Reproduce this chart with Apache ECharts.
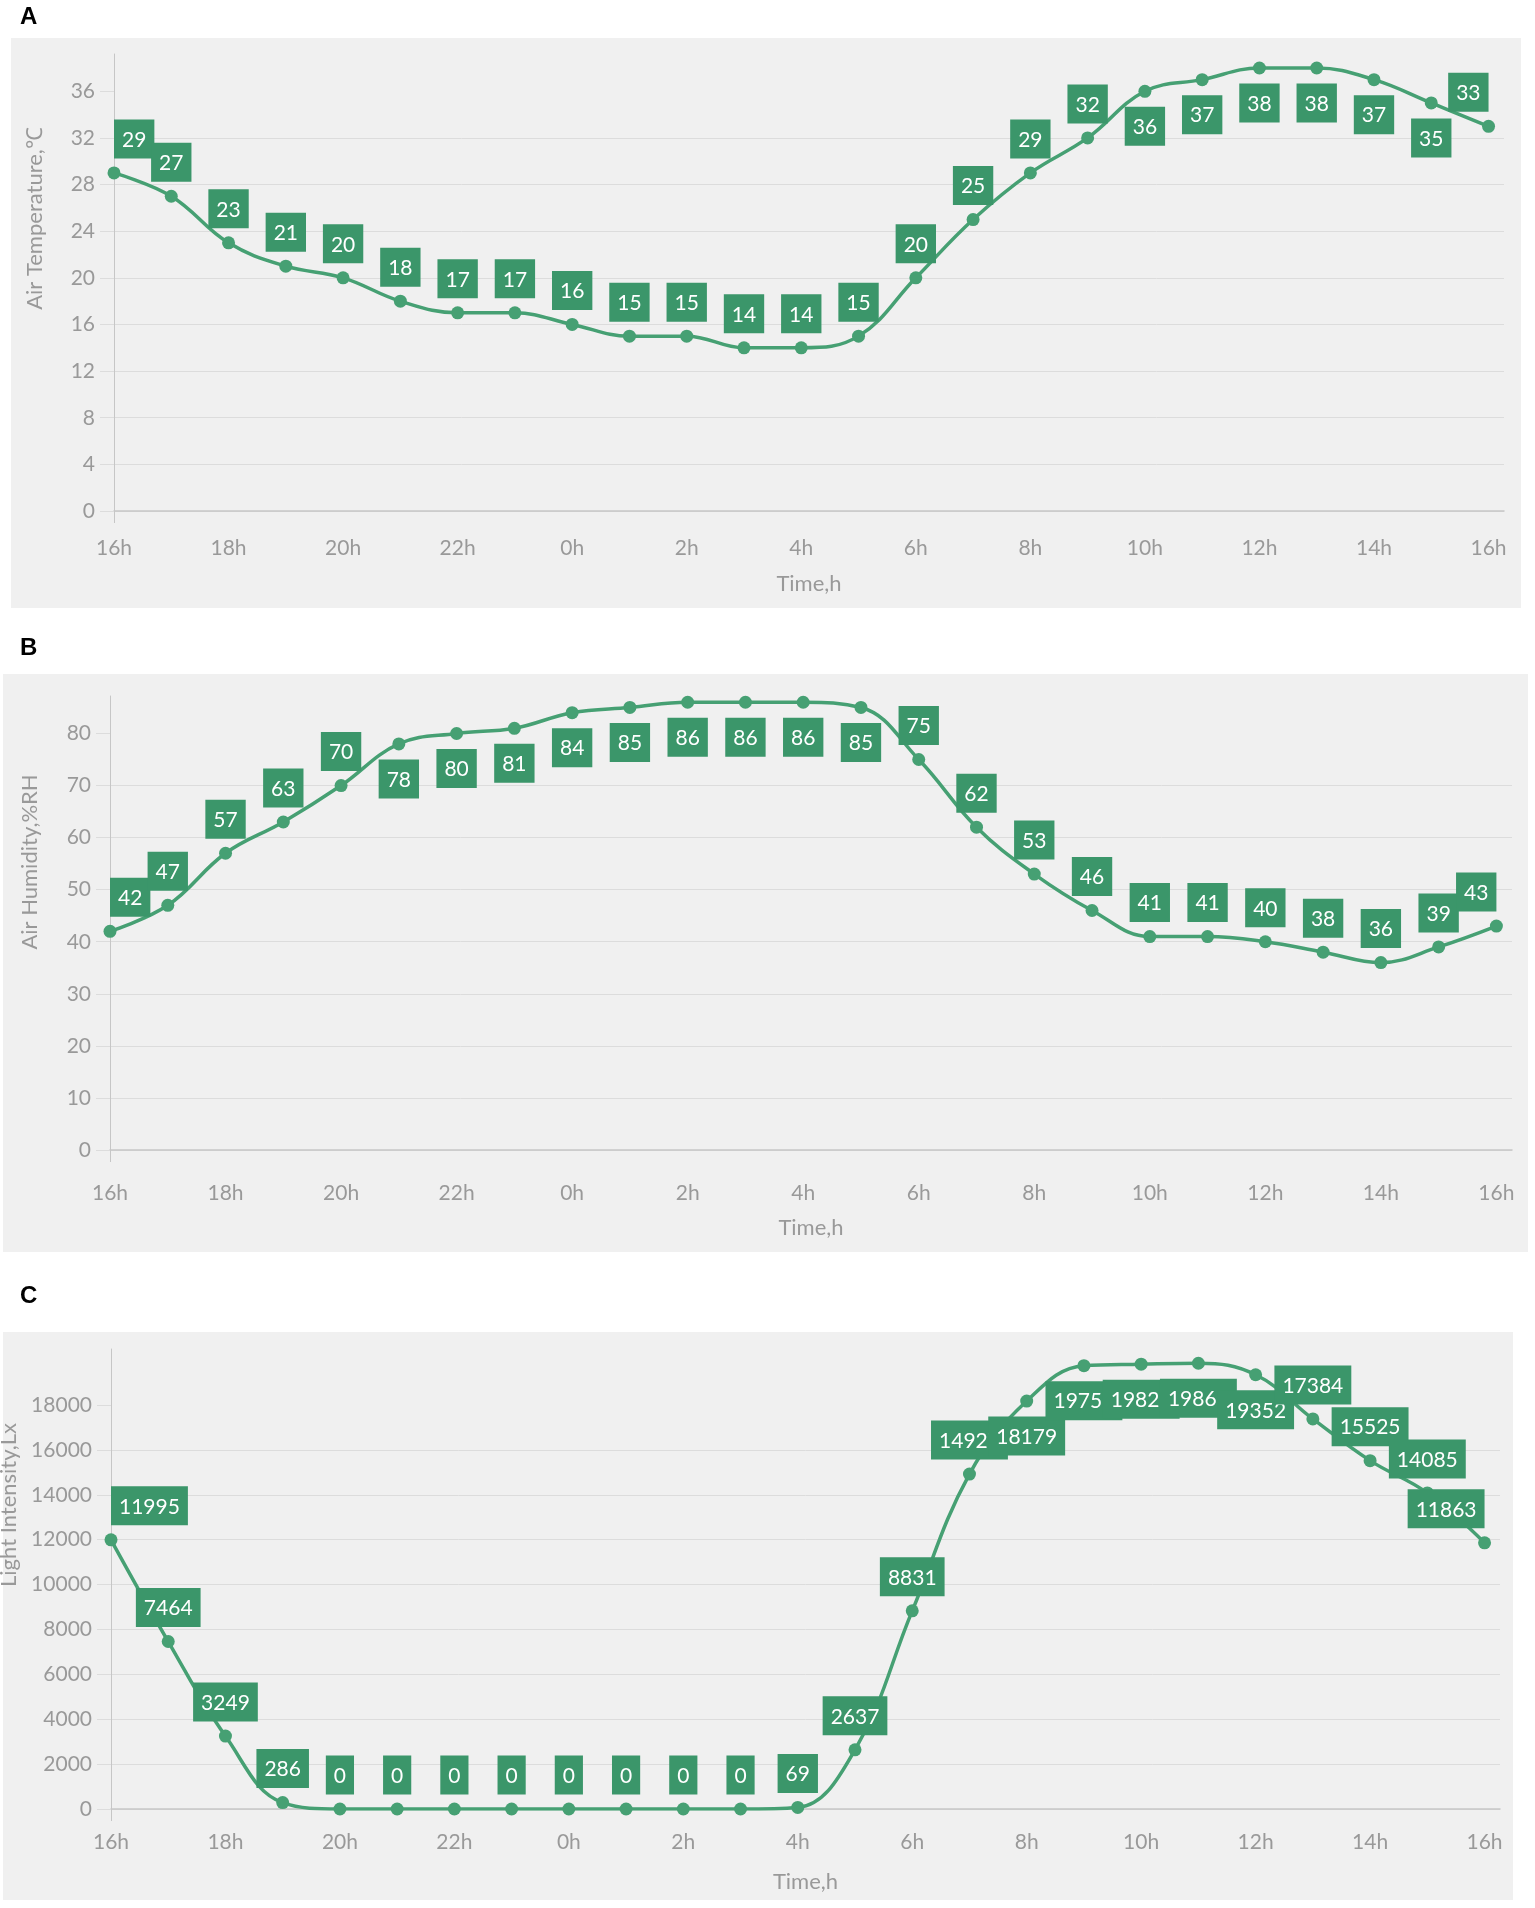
<!DOCTYPE html>
<html>
<head>
    <meta charset="utf-8">
    <title>Air temperature, humidity and light intensity over 24 h</title>
    <script type="text/javascript" src="https://cdn.jsdelivr.net/npm/echarts@6/dist/echarts.min.js"></script>
    <style>
        html, body { margin: 0; padding: 0; background: #fff; }
    </style>
</head>
<body>
    <div id="main" style="width:1535px; height:1908px;"></div>
    <script type="text/javascript">

    // 时间类目（16h 到次日 16h）
    var hours = ['16h', '17h', '18h', '19h', '20h', '21h', '22h', '23h', '0h', '1h', '2h', '3h',
                 '4h', '5h', '6h', '7h', '8h', '9h', '10h', '11h', '12h', '13h', '14h', '15h', '16h'];

    // 三组观测值
    var temperature = [29, 27, 23, 21, 20, 18, 17, 17, 16, 15, 15, 14, 14, 15, 20, 25, 29, 32, 36, 37, 38, 38, 37, 35, 33];
    var humidity = [42, 47, 57, 63, 70, 78, 80, 81, 84, 85, 86, 86, 86, 85, 75, 62, 53, 46, 41, 41, 40, 38, 36, 39, 43];
    var light = [11995, 7464, 3249, 286, 0, 0, 0, 0, 0, 0, 0, 0, 69, 2637, 8831, 14927, 18179, 19757, 19822, 19865, 19352, 17384, 15525, 14085, 11863];

    // y 轴刻度
    var tempTicks = [0, 4, 8, 12, 16, 20, 24, 28, 32, 36];
    var humTicks = [0, 10, 20, 30, 40, 50, 60, 70, 80];
    var lightTicks = [0, 2000, 4000, 6000, 8000, 10000, 12000, 14000, 16000, 18000];

    var FONT = 'Lato';
    var GRAY = '#999999';
    var GRID_LINE = '#dcdcdc';
    var AXIS_LINE = '#c6c6c6';
    var LINE_COLOR = '#46a073';
    var BOX_COLOR = '#3b966a';

    // 每个面板的布局
    var panels = [
        {letter: 'A', letterTop: 0, bg: [11, 38, 1510, 570], grid: {left: 114, top: 54, right: 31, height: 457},
         name: 'Air Temperature,℃', yMax: 39.2, interval: 4, ticks: tempTicks, values: temperature,
         nameGap: 68, nameShift: 128, xNameGap: 62, xMargin: 27},
        {letter: 'B', letterTop: 631, bg: [3, 674, 1525, 578], grid: {left: 110, top: 696, right: 23, height: 454},
         name: 'Air Humidity,%RH', yMax: 87.2, interval: 10, ticks: humTicks, values: humidity,
         nameGap: 69, nameShift: 122, xNameGap: 67, xMargin: 33},
        {letter: 'C', letterTop: 1279, bg: [3, 1332, 1510, 568], grid: {left: 111, top: 1349, right: 35, height: 460},
         name: 'Light Intensity,Lx', yMax: 20500, interval: 2000, ticks: lightTicks, values: light,
         nameGap: 78, nameShift: 148, xNameGap: 62, xMargin: 23}
    ];

    // 标签越出网格顶部时放到点下方；首尾标签向内对齐
    function labelFix(gridTop, lastIndex) {
        return function (p) {
            var r = p.rect, l = p.labelRect;
            var cx = r.x + r.width / 2;
            var out = {};
            if (l.y < gridTop + 5) {
                out.dy = r.y + r.height + 9 - l.y;
            }
            if (p.dataIndex === 0) {
                out.dx = cx - l.x;
            } else if (p.dataIndex === lastIndex) {
                out.dx = cx - (l.x + l.width);
            }
            return out;
        };
    }

    var myChart = echarts.init(document.getElementById('main'));

    var option = {
        backgroundColor: '#ffffff',
        animation: false,
        textStyle: {fontFamily: FONT},
        title: [],
        graphic: [],
        grid: [],
        xAxis: [],
        yAxis: [],
        series: []
    };

    panels.forEach(function (pn, k) {
        option.graphic.push({
            type: 'rect',
            z: -10,
            silent: true,
            shape: {x: pn.bg[0], y: pn.bg[1], width: pn.bg[2], height: pn.bg[3]},
            style: {fill: '#f0f0f0'}
        });
        option.title.push({
            text: pn.letter,
            left: 15,
            top: pn.letterTop,
            textStyle: {fontFamily: 'Liberation Sans', fontWeight: 'bold', fontSize: 24, color: '#000'}
        });
        option.grid.push({
            left: pn.grid.left,
            top: pn.grid.top,
            right: pn.grid.right,
            height: pn.grid.height,
            containLabel: false,
            outerBoundsMode: 'none'
        });

        option.xAxis.push({
            type: 'value',
            gridIndex: k,
            min: 0,
            max: 24.27,
            interval: 2,
            name: 'Time,h',
            nameLocation: 'middle',
            nameGap: pn.xNameGap,
            nameTextStyle: {color: GRAY, fontSize: 22, fontFamily: FONT},
            axisLine: {show: true, lineStyle: {color: AXIS_LINE, width: 1.5}},
            axisTick: {show: true, customValues: [0], length: 12, lineStyle: {color: AXIS_LINE}},
            splitLine: {show: false},
            axisLabel: {
                color: GRAY,
                fontSize: 21,
                fontFamily: FONT,
                margin: pn.xMargin,
                showMaxLabel: false,
                formatter: function (v) {
                    return hours[v] !== undefined ? hours[v] : '';
                }
            }
        });

        option.yAxis.push({
            type: 'value',
            gridIndex: k,
            min: 0,
            max: pn.yMax,
            interval: pn.interval,
            name: pn.name,
            nameLocation: 'middle',
            nameGap: pn.nameGap,
            nameTextStyle: {color: GRAY, fontSize: 22, fontFamily: FONT, padding: [0, 0, 0, pn.nameShift]},
            axisLine: {show: true, lineStyle: {color: AXIS_LINE}},
            axisTick: {show: true, length: 14, customValues: pn.ticks, lineStyle: {color: GRID_LINE}},
            splitLine: {show: true, showMaxLine: false, lineStyle: {color: GRID_LINE}},
            axisLabel: {
                color: GRAY,
                fontSize: 21,
                fontFamily: FONT,
                margin: 19,
                padding: [0, 0, 14, 0],
                customValues: pn.ticks,
                formatter: function (v) {
                    return String(v);
                }
            }
        });

        option.series.push({
            type: 'line',
            xAxisIndex: k,
            yAxisIndex: k,
            smooth: 0.4,
            symbol: 'circle',
            symbolSize: 13,
            lineStyle: {color: LINE_COLOR, width: 3.5},
            itemStyle: {color: LINE_COLOR},
            label: {
                show: true,
                position: 'top',
                distance: 8,
                color: '#fff',
                fontSize: 21,
                fontFamily: FONT,
                backgroundColor: BOX_COLOR,
                padding: [10, 8, 8, 8]
            },
            labelLayout: labelFix(pn.grid.top, pn.values.length - 1),
            data: hours.map(function (h, i) {
                return [i, pn.values[i]];
            })
        });
    });

    myChart.setOption(option);
    </script>
</body>
</html>
